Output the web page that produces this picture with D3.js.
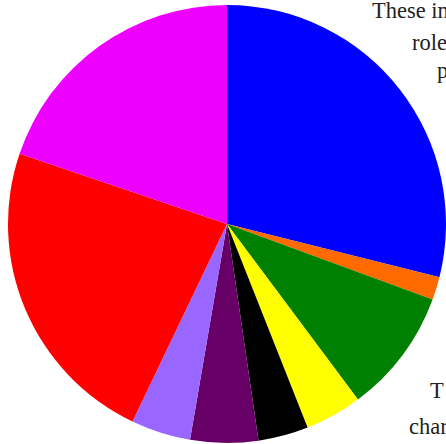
<!DOCTYPE html>
<html>
<head>
<meta charset="utf-8">
<script src="https://cdn.jsdelivr.net/npm/d3@7"></script>
<style>
  html, body { margin: 0; padding: 0; background: #ffffff; overflow: hidden; }
  svg { display: block; }
  .side-text { font-family: "Liberation Serif", "DejaVu Serif", serif; font-size: 22.5px; fill: #231f20; }
</style>
</head>
<body>
<svg id="chart" width="446" height="444"></svg>
<script>
// Slice shares (percent), clockwise from 12 o'clock
const categories = ["A", "B", "C", "D", "E", "F", "G", "H", "I"];
const shares = [28.9, 1.7, 9.2, 4.2, 3.7, 5.0, 4.4, 23.1, 19.8];
const colors = ["#0000ff", "#ff6a00", "#008000", "#ffff00", "#000000",
                "#660066", "#9966ff", "#ff0000", "#ee00ff"];

// Wrapped lines of body text beside the chart
const sideLines = ["These in", "role", "p", "T", "char"];

const width = 446, height = 444;
const cx = 227, cy = 224, radius = 219;

const svg = d3.select("#chart");

const color = d3.scaleOrdinal().domain(categories).range(colors);

const pie = d3.pie()
  .sort(null)
  .value(d => d.value);

const arc = d3.arc()
  .innerRadius(0)
  .outerRadius(radius);

const data = categories.map((c, i) => ({ name: c, value: shares[i] }));

svg.append("g")
  .attr("transform", `translate(${cx},${cy})`)
  .selectAll("path")
  .data(pie(data))
  .join("path")
  .attr("d", arc)
  .attr("fill", d => color(d.data.name));

// Text positions along the right margin
const textPos = [
  { x: 372, y: 18 },
  { x: 412, y: 50 },
  { x: 437, y: 78 },
  { x: 430, y: 398 },
  { x: 409, y: 434 }
];

svg.append("g")
  .selectAll("text")
  .data(sideLines)
  .join("text")
  .attr("class", "side-text")
  .attr("x", (d, i) => textPos[i].x)
  .attr("y", (d, i) => textPos[i].y)
  .text(d => d);
</script>
</body>
</html>
